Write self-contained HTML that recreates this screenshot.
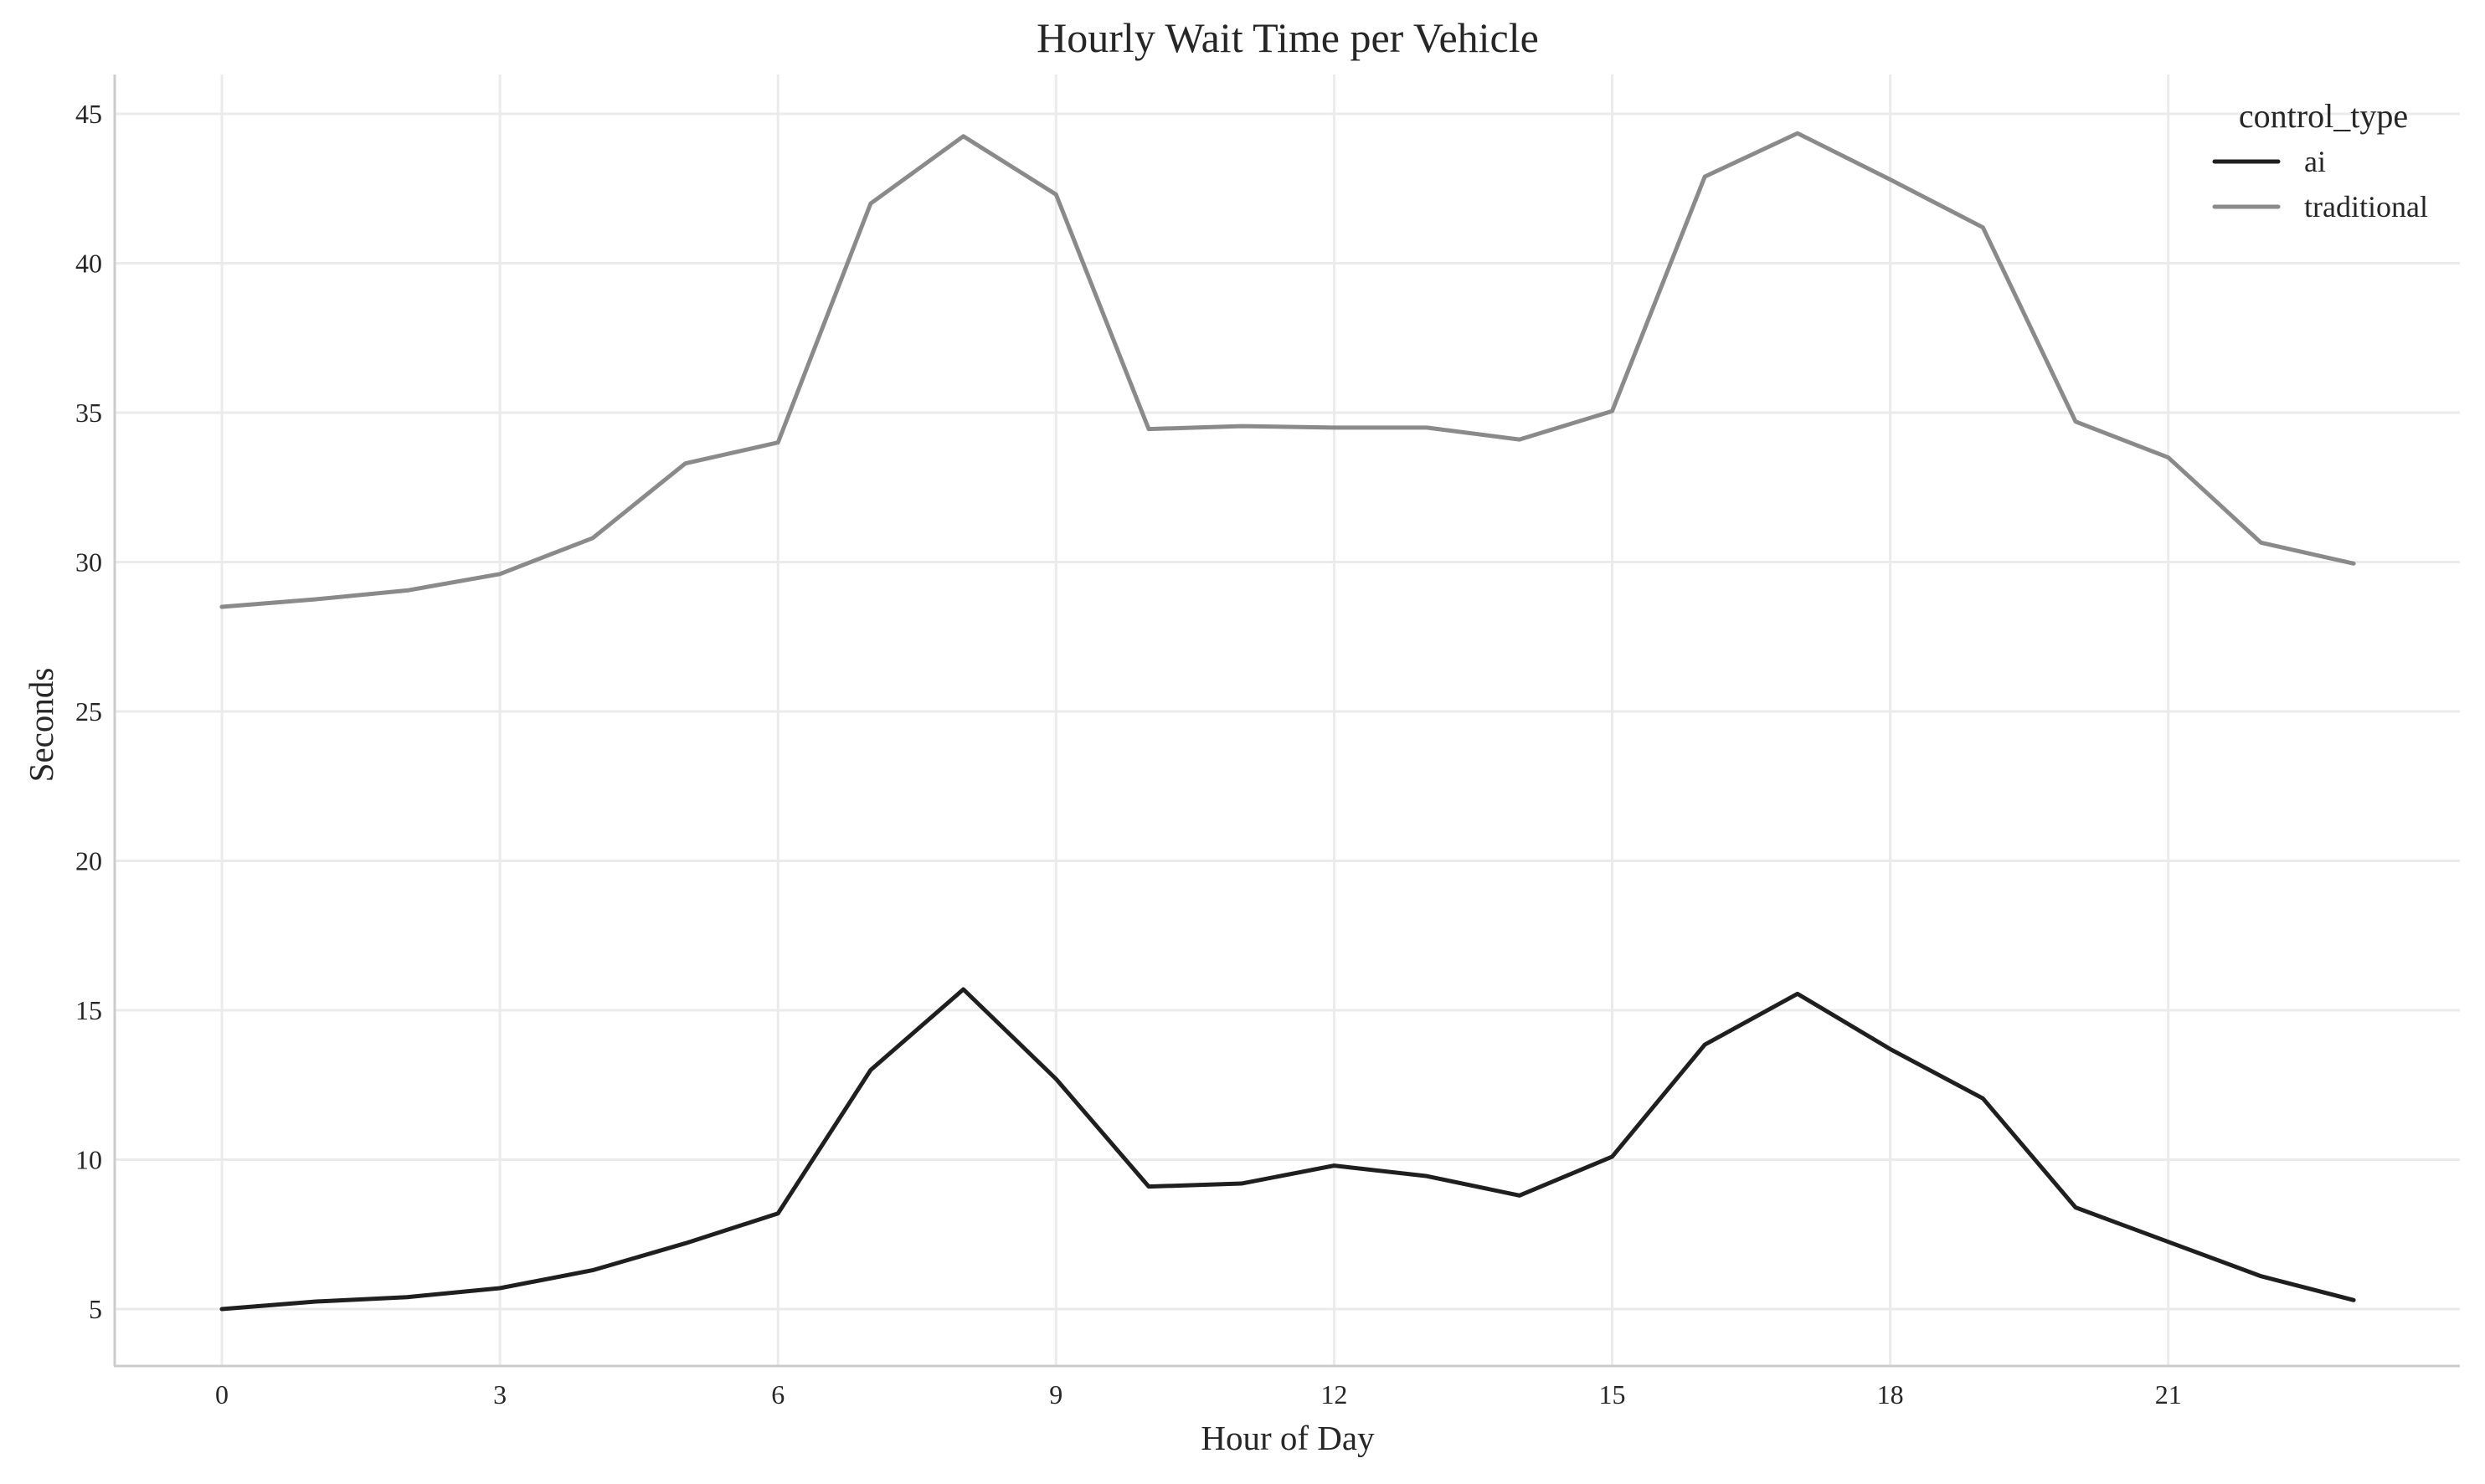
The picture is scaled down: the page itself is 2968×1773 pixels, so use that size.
<!DOCTYPE html>
<html><head><meta charset="utf-8"><style>
body{margin:0;background:#fff}
svg text{font-family:"Liberation Serif",serif;fill:#262626}
</style></head><body>
<svg id="chart" width="2968" height="1768" viewBox="0 0 2968 1768">
<text x="1538" y="62" font-size="50" text-anchor="middle">Hourly Wait Time per Vehicle</text>
<g id="grid"></g>
<g id="series"></g>
<line x1="137" y1="89" x2="137" y2="1632" stroke="#cccccc" stroke-width="3"/>
<line x1="136" y1="1632" x2="2938" y2="1632" stroke="#cccccc" stroke-width="3"/>
<g id="ticks"></g>
<text x="1538" y="1732" font-size="41" text-anchor="middle">Hour of Day</text>
<text x="0" y="0" font-size="41" text-anchor="middle" transform="translate(63,866) rotate(-90)">Seconds</text>
<g>
<text x="2775" y="152" font-size="40" text-anchor="middle">control_type</text>
<g>
<line x1="2645" y1="193" x2="2721" y2="193" stroke="#1f1f1f" stroke-width="5" stroke-linecap="round"/>
<text x="2752" y="205" font-size="36">ai</text></g>
<g>
<line x1="2645" y1="247" x2="2721" y2="247" stroke="#8a8a8a" stroke-width="5" stroke-linecap="round"/>
<text x="2752" y="259" font-size="36">traditional</text></g>
</g>
</svg>
<script>
const hours=[0,1,2,3,4,5,6,7,8,9,10,11,12,13,14,15,16,17,18,19,20,21,22,23];
const aiValues=[5.0,5.25,5.4,5.7,6.3,7.2,8.2,13.0,15.7,12.7,9.1,9.2,9.8,9.45,8.8,10.1,13.85,15.55,13.7,12.05,8.4,7.25,6.1,5.3];
const traditionalValues=[28.5,28.75,29.05,29.6,30.8,33.3,34.0,42.0,44.25,42.3,34.45,34.55,34.5,34.5,34.1,35.05,42.9,44.35,42.8,41.2,34.7,33.5,30.65,29.95];
const xTicks=[0,3,6,9,12,15,18,21];
const yTicks=[5,10,15,20,25,30,35,40,45];
const NS="http://www.w3.org/2000/svg";
function xs(v){return 265+v*110.7;}
function ys(v){return 1564-(v-5)*35.7;}
const grid=document.getElementById('grid'),ticks=document.getElementById('ticks'),series=document.getElementById('series');
function mk(tag,attrs,parent){const e=document.createElementNS(NS,tag);for(const k in attrs)e.setAttribute(k,attrs[k]);parent.appendChild(e);return e;}
xTicks.forEach(t=>{
 const l=mk('line',{x1:xs(t),x2:xs(t),y1:89,y2:1632,stroke:'#ebebeb','stroke-width':3},grid);
 
 
 const tx=mk('text',{x:xs(t),y:1677,'font-size':32,'text-anchor':'middle'},ticks);
 tx.textContent=t;
 
 
});
yTicks.forEach(t=>{
 const l=mk('line',{x1:137,x2:2938,y1:ys(t),y2:ys(t),stroke:'#ebebeb','stroke-width':3},grid);
 
 
 const tx=mk('text',{x:122,y:ys(t)+11,'font-size':32,'text-anchor':'end'},ticks);
 tx.textContent=t;
 
 
});
function line(vals,color,name){
 const p=mk('polyline',{points:vals.map((v,i)=>xs(hours[i])+','+ys(v)).join(' '),fill:'none',stroke:color,'stroke-width':5,'stroke-linejoin':'round','stroke-linecap':'round'},series);
 
 
}
line(traditionalValues,'#8a8a8a','traditional-line');
line(aiValues,'#1f1f1f','ai-line');
</script>
</body></html>
